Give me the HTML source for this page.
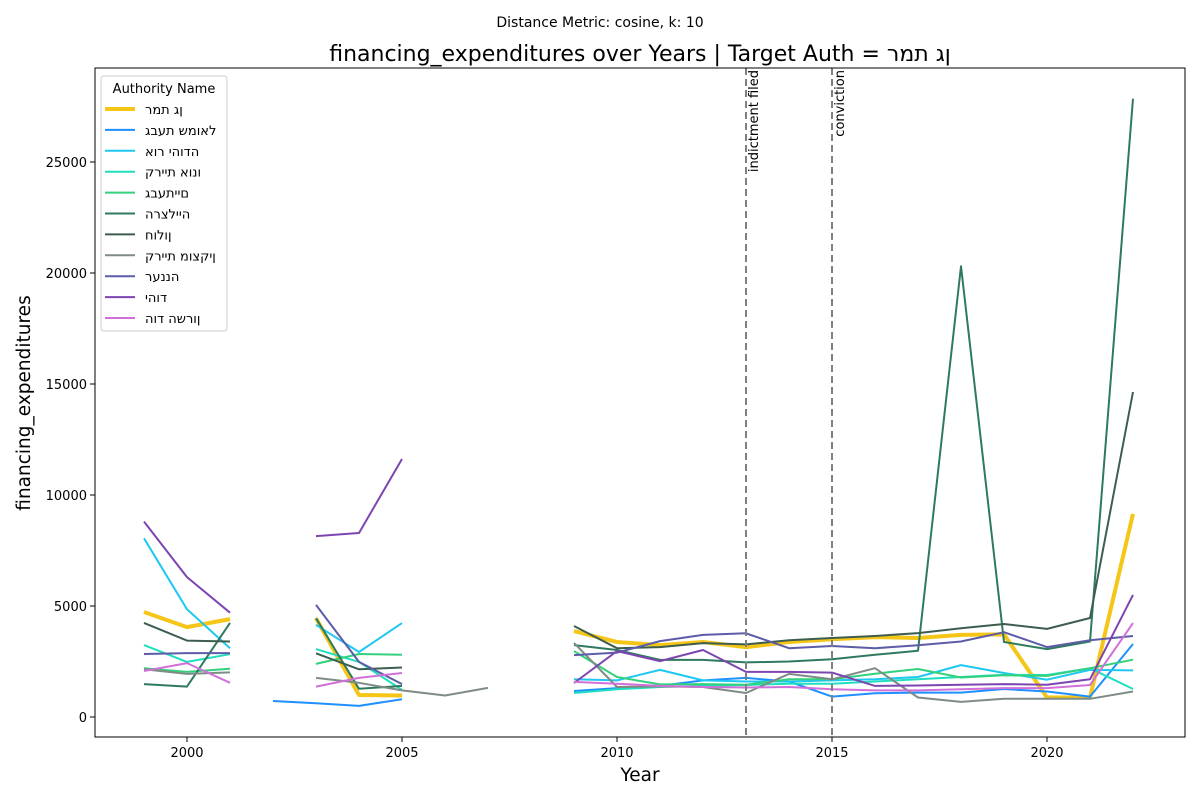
<!DOCTYPE html>
<html><head><meta charset="utf-8"><style>
body{margin:0;background:#fff;}
svg{font-family:"DejaVu Sans","Liberation Sans",sans-serif;}
</style></head><body>
<svg id="chart" width="1200" height="800" xmlns="http://www.w3.org/2000/svg"></svg>
<script>
const years=[1999,2000,2001,2002,2003,2004,2005,2006,2007,2008,2009,2010,2011,2012,2013,2014,2015,2016,2017,2018,2019,2020,2021,2022];
const seriesNames=["רמת גן","גבעת שמואל","אור יהודה","קריית אונו","גבעתיים","הרצלייה","חולון","קריית מוצקין","רעננה","יהוד","הוד השרון"];
const seriesColors=["#f5c518","#1e90ff","#1ec8f0","#1fdfc0","#33d17e","#2e7a5e","#3d5e4e","#7f8c86","#5c5ca8","#7d45b2","#d070d8"];
const N=null;
const vRamatGan=[4730,4050,4410,N,4450,990,970,N,N,N,3870,3380,3240,3380,3150,3380,3500,3600,3560,3700,3720,880,880,9150];
const vGivatShmuel=[N,N,N,720,620,500,800,N,N,N,1170,1300,1400,1650,1760,1600,920,1070,1100,1100,1260,1150,920,3290];
const vOrYehuda=[8050,4850,3100,N,4150,2930,4230,N,N,N,1700,1650,2120,1650,1600,1600,1650,1700,1800,2340,1980,1680,2120,2100];
const vKiryatOno=[3240,2480,2830,N,3060,2480,1220,N,N,N,1080,1250,1350,1400,1440,1500,1500,1600,1700,1800,1900,1890,2200,1260];
const vGivatayim=[2200,2030,2170,N,2390,2840,2800,N,N,N,2970,1800,1470,1480,1450,1700,1700,1950,2160,1780,1880,1850,2200,2580];
const vHerzliya=[1480,1370,4240,N,4450,1270,1400,N,N,N,3240,3020,2570,2570,2460,2500,2600,2800,2980,20300,3380,3060,3400,27850];
const vHolon=[4240,3440,3400,N,2870,2150,2230,N,N,N,4100,3100,3150,3330,3270,3460,3560,3650,3780,4000,4190,3970,4460,14640];
const vMotzkin=[2150,1940,2010,N,1760,1540,1200,970,1310,N,3340,1350,1380,1350,1080,1940,1700,2200,880,680,820,820,820,1150];
const vRaanana=[2840,2880,2880,N,5050,2480,1480,N,N,N,2790,2900,3420,3700,3770,3100,3200,3100,3230,3400,3820,3150,3460,3650];
const vYehud=[8800,6300,4700,N,8150,8290,11620,N,N,N,1530,2970,2520,3020,2030,2030,2000,1400,1420,1450,1480,1450,1700,5500];
const vHodHasharon=[2070,2430,1540,N,1370,1760,1980,N,N,N,1580,1500,1400,1350,1330,1350,1250,1200,1200,1250,1300,1300,1440,4230];
const seriesValues=[vRamatGan,vGivatShmuel,vOrYehuda,vKiryatOno,vGivatayim,vHerzliya,vHolon,vMotzkin,vRaanana,vYehud,vHodHasharon];
const xTicks=[2000,2005,2010,2015,2020];
const yTicks=[0,5000,10000,15000,20000,25000];
const events=[2013,2015];
const eventLabels=["indictment filed","conviction"];

const NS="http://www.w3.org/2000/svg";
const svg=document.getElementById('chart');
const L=95,R=1185,T=68,B=737;
const xs=y=>187+(y-2000)*43;
const ys=v=>717-v*0.0222;
const ltr=s=>'\u202D'+s+'\u202C';
function el(tag,attrs,parent){const e=document.createElementNS(NS,tag);for(const k in attrs)e.setAttribute(k,attrs[k]);(parent||svg).appendChild(e);return e;}

const sup=el('text',{x:600,y:27,'text-anchor':'middle','font-size':14});
sup.textContent="Distance Metric: cosine, k: 10";


const title=el('text',{x:640,y:61,'text-anchor':'middle','font-size':22});


title.textContent="financing_expenditures over Years | Target Auth = "+ltr(seriesNames[0]);

seriesValues.forEach((vals,si)=>{
  const g=el('g',{});
  
  
  let d='',pen=false;
  vals.forEach((v,i)=>{
    if(v===null){pen=false;return;}
    d+=(pen?'L':'M')+xs(years[i]).toFixed(1)+','+ys(v).toFixed(1);pen=true;
  });
  const p=el('path',{d:d,fill:'none',stroke:seriesColors[si],'stroke-width':si===0?4:2,'stroke-linejoin':'round'},g);
  
  
});

events.forEach((yr,i)=>{
  const ln=el('line',{x1:xs(yr),x2:xs(yr),y1:T,y2:B,stroke:'#808080','stroke-width':2,'stroke-dasharray':'7,4'});
  
  
  const t=el('text',{x:0,y:0,'font-size':13,transform:`translate(${xs(yr)+12},${T+2}) rotate(-90)`,'text-anchor':'end'});
  t.textContent=eventLabels[i];
  
  
});

const fr=el('rect',{x:L,y:T,width:R-L,height:B-T,fill:'none',stroke:'#000','stroke-width':1});


xTicks.forEach(t=>{
  el('line',{x1:xs(t),x2:xs(t),y1:B,y2:B+5,stroke:'#000'});
  const tx=el('text',{x:xs(t),y:B+20,'text-anchor':'middle','font-size':13});
  tx.textContent=t;
  
  
});
yTicks.forEach(t=>{
  el('line',{x1:L-5,x2:L,y1:ys(t),y2:ys(t),stroke:'#000'});
  const tx=el('text',{x:L-8,y:ys(t)+5,'text-anchor':'end','font-size':13});
  tx.textContent=t;
  
  
});
const xl=el('text',{x:640,y:781,'text-anchor':'middle','font-size':18.5});
xl.textContent="Year";


const yl=el('text',{x:0,y:0,'text-anchor':'middle','font-size':18.5,transform:'translate(30,403) rotate(-90)'});
yl.textContent="financing_expenditures";



const lg=el('g',{});


el('rect',{x:101,y:76,width:126,height:255,rx:3,fill:'#fff','fill-opacity':0.8,stroke:'#ccc'},lg);
const lt=el('text',{x:164,y:93,'text-anchor':'middle','font-size':13},lg);
lt.textContent="Authority Name";
seriesNames.forEach((n,i)=>{
  const y=109+i*20.9;
  const e=el('g',{},lg);
  
  
  el('line',{x1:105,x2:135,y1:y,y2:y,stroke:seriesColors[i],'stroke-width':i===0?4:2},e);
  const t=el('text',{x:145,y:y+5,'font-size':13},e);
  t.textContent=ltr(n);
});
</script>
</body></html>
